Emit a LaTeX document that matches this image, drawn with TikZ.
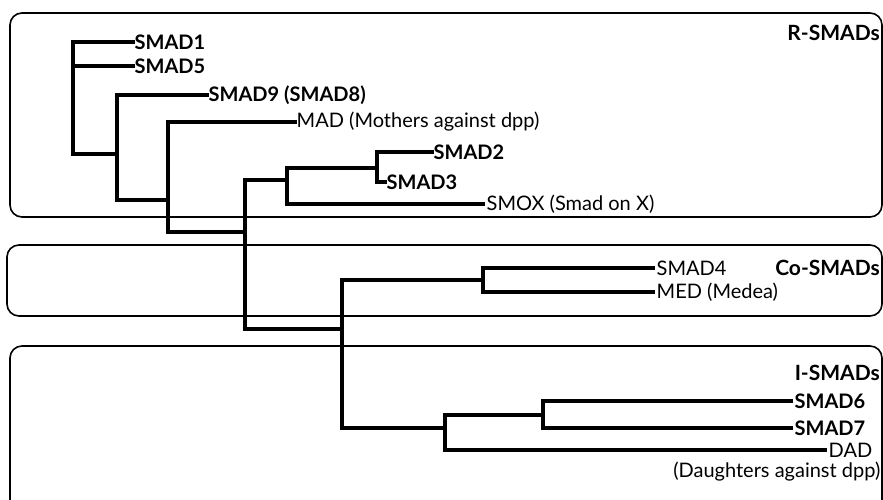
\documentclass[tikz,border=0pt]{standalone}
\usepackage{fontspec}
\setmainfont{Lato}
\usepackage{tikz}
\usetikzlibrary{positioning, calc}

\begin{document}
\begin{tikzpicture}[
    x=1pt, y=-1pt,
    group/.style={draw, line width=1.6pt, rounded corners=12pt},
    branch/.style={line width=3.6pt, line cap=rect},
    twig/.style={line width=3.1pt},
    leaf/.style={anchor=west, inner sep=1.5pt, font=\fontsize{20}{22}\selectfont},
    leafb/.style={leaf, font=\fontsize{20}{22}\selectfont\bfseries},
    family/.style={anchor=east, inner sep=1pt, font=\fontsize{21}{23}\selectfont\bfseries}
]
\useasboundingbox (0,0) rectangle (883,500);
% Family boxes
\draw[group] (10,13) rectangle (882,217);
\draw[group] (7,245) rectangle (882,316);
\draw[group] (10,346) rectangle (882,520);
% Family names
\node[family] (rfam) at (881,33)  {R-SMADs};
\node[family] (cofam) at (881,268) {Co-SMADs};
\node[family] (ifam) at (881,373) {I-SMADs};
% Leaves
\node[leafb] (smad1) at (133,42)  {SMAD1};
\node[leafb] (smad5) at (133,66)  {SMAD5};
\node[leafb] (smad9) at (207,95)  {SMAD9 (SMAD8)};
\node[leaf]  (mad)   at (295,122) {MAD (Mothers against dpp)};
\node[leafb] (smad2) at (432,152) {SMAD2};
\node[leafb] (smad3) at (385,182) {SMAD3};
\node[leaf]  (smox)  at (485,204) {SMOX (Smad on X)};
\node[leaf]  (smad4) at (655,268) {SMAD4};
\node[leaf]  (med)   at (655,292) {MED (Medea)};
\node[leafb] (smad6) at (793,401) {SMAD6};
\node[leafb] (smad7) at (793,428) {SMAD7};
\node[leaf]  (dad)   at (827,450) {DAD};
\node[leaf, anchor=east] (dadlong) at (882,472) {(Daughters against dpp)};
% Internal nodes
\coordinate (n1) at (73,154);
\coordinate (n2) at (117,200);
\coordinate (n3) at (168,232);
\coordinate (n4) at (245,329);
\coordinate (n5) at (287,180);
\coordinate (n6) at (377,168);
\coordinate (n0) at (342,329);
\coordinate (n7) at (483,280);
\coordinate (n8) at (445,428);
\coordinate (n9) at (543,415);
% Tree
\draw[branch] (n1) |- (smad1.west);
\draw[branch] (n1) |- (smad5.west);
\draw[branch] (n2) |- (n1);
\draw[branch] (n2) |- (smad9.west);
\draw[branch] (n3) |- (n2);
\draw[branch] (n3) |- (mad.west);
\draw[branch] (n4) |- (n3);
\draw[branch] (n4) |- (n5);
\draw[branch] (n5) |- (n6);
\draw[twig]   (n5) |- (smox.west);
\draw[branch] (n6) |- (smad2.west);
\draw[branch] (n6) |- (smad3.west);
\draw[branch] (n0) -- (n4);
\draw[branch] (n0) |- (n7);
\draw[branch] (n0) |- (n8);
\draw[twig]   (n7) |- (smad4.west);
\draw[twig]   (n7) |- (med.west);
\draw[twig]   (n8) |- (n9);
\draw[twig]   (n8) |- (dad.west);
\draw[twig]   (n9) |- (smad6.west);
\draw[twig]   (n9) |- (smad7.west);
\end{tikzpicture}
\end{document}
